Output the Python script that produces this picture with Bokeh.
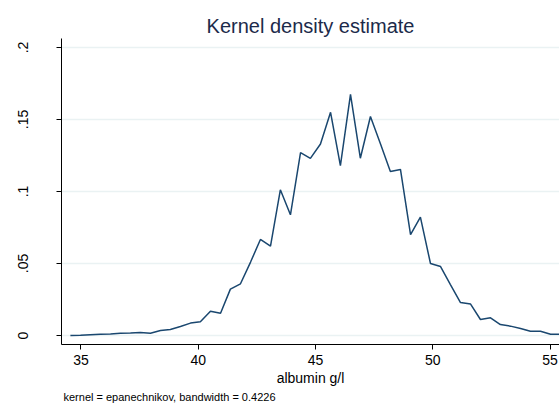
from bokeh.plotting import figure
from bokeh.models import Range1d, FixedTicker, Title
from bokeh.embed import file_html
from bokeh.resources import INLINE

# evaluation points (albumin g/l) and kernel density estimates
albumin = [34.55, 34.98, 35.40, 35.83, 36.26, 36.68, 37.11, 37.53, 37.96, 38.39,
           38.81, 39.24, 39.67, 40.09, 40.52, 40.95, 41.37, 41.80, 42.23, 42.65,
           43.08, 43.50, 43.93, 44.36, 44.78, 45.21, 45.64, 46.06, 46.49, 46.91,
           47.34, 47.77, 48.19, 48.62, 49.05, 49.47, 49.90, 50.33, 50.75, 51.18,
           51.61, 52.03, 52.46, 52.88, 53.31, 53.74, 54.16, 54.59, 55.02, 55.44]
density = [0.0000, 0.0002, 0.0005, 0.0008, 0.0010, 0.0015, 0.0017, 0.0021, 0.0016, 0.0035,
           0.0042, 0.0063, 0.0086, 0.0095, 0.0169, 0.0155, 0.0322, 0.0359, 0.0510, 0.0667,
           0.0620, 0.1012, 0.0838, 0.1270, 0.1230, 0.1330, 0.1550, 0.1180, 0.1674, 0.1231,
           0.1521, 0.1330, 0.1139, 0.1153, 0.0701, 0.0822, 0.0500, 0.0479, 0.0354, 0.0229,
           0.0218, 0.0111, 0.0123, 0.0076, 0.0065, 0.0049, 0.0030, 0.0030, 0.0009, 0.0009]

x_ticks = [35, 40, 45, 50, 55]
y_ticks = [0, 0.05, 0.1, 0.15, 0.2]
y_tick_labels = ["0", ".05", ".1", ".15", ".2"]

FONT = "Liberation Sans"

p = figure(width=559, height=403, output_backend="svg", toolbar_location=None,
           x_range=Range1d(34.17, 55.40), y_range=Range1d(-0.00625, 0.20625),
           min_border_left=61, min_border_right=0, min_border_top=38, min_border_bottom=59)
p.background_fill_color = "white"
p.border_fill_color = "white"
p.outline_line_color = None

p.line(albumin, density, line_color="#1a476f", line_width=1.5)

# axes
p.xaxis.ticker = FixedTicker(ticks=x_ticks)
p.yaxis.ticker = FixedTicker(ticks=y_ticks)
p.yaxis.major_label_overrides = {t: l for t, l in zip(y_ticks, y_tick_labels)}
p.yaxis.major_label_orientation = "vertical"
for ax in (p.xaxis, p.yaxis):
    ax.axis_line_color = "black"
    ax.axis_line_width = 1
    ax.major_tick_line_color = "black"
    ax.major_tick_out = 5
    ax.major_tick_in = 0
    ax.minor_tick_line_color = None
    ax.major_label_text_font = FONT
    ax.major_label_text_color = "black"
p.xaxis.major_label_text_font_size = "14px"
p.yaxis.major_label_text_font_size = "14px"
p.xaxis.major_label_standoff = 5
p.yaxis.major_label_standoff = 29

p.xaxis.axis_label = "albumin g/l"
p.xaxis.axis_label_text_font = FONT
p.xaxis.axis_label_text_font_size = "14px"
p.xaxis.axis_label_text_font_style = "normal"
p.xaxis.axis_label_text_color = "black"
p.xaxis.axis_label_standoff = 2

p.xgrid.grid_line_color = None
p.ygrid.grid_line_color = "#eaf2f3"
p.ygrid.grid_line_width = 1.5

# title
p.title = Title(text="Kernel density estimate", text_font=FONT, text_font_size="20px",
                text_font_style="normal", text_color="#1c2a4a", align="center",
                offset=8, standoff=4)

# note
note = Title(text="kernel = epanechnikov, bandwidth = 0.4226", text_font=FONT,
             text_font_size="11px", text_font_style="normal", text_color="black",
             align="left", offset=2, standoff=0)
p.add_layout(note, "below")

open("out.html", "w").write(file_html(p, INLINE))
